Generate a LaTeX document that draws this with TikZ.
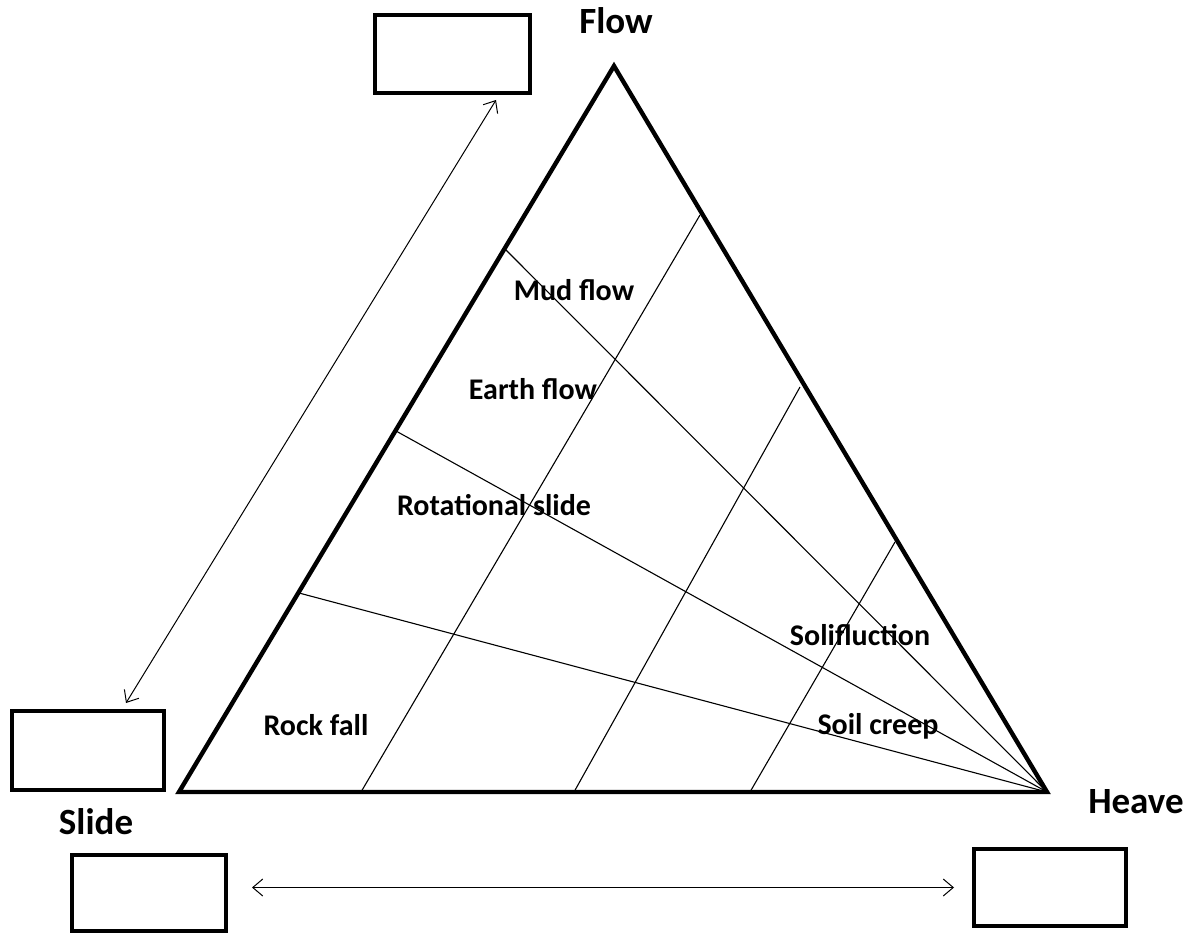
\documentclass[tikz,border=0pt]{standalone}
\usepackage{fontspec}
\setmainfont{Carlito}
\usetikzlibrary{arrows.meta,calc}
\begin{document}
\begin{tikzpicture}[x=1pt,y=-1pt,
  box/.style={draw,line width=4pt,rectangle,inner sep=0pt},
  title/.style={font=\fontsize{37}{40}\selectfont\bfseries,inner sep=0pt,anchor=base},
  lab/.style={font=\fontsize{30}{32}\selectfont\bfseries,inner sep=0pt,anchor=base},
  edge/.style={line width=4.4pt,line join=miter},
  thin/.style={line width=1.1pt},
  dbl/.style={line width=1pt,{Straight Barb[length=10pt,width=17pt]}-{Straight Barb[length=10pt,width=17pt]}}]
\useasboundingbox (0,0) rectangle (1193,936);
\fill[white] (0,0) rectangle (1193,936);
% triangle corners
\coordinate (A) at (614,66);
\coordinate (B) at (179,792);
\coordinate (C) at (1047,792);
% fan line ends on left side
\coordinate (f1) at (504,248);
\coordinate (f2) at (396,431);
\coordinate (f3) at (299,593);
% parallel lines
\coordinate (p1b) at (361,792);
\coordinate (p1t) at (700,215);
\coordinate (p2b) at (574,792);
\coordinate (p2t) at (800,387);
\coordinate (p3b) at (750,792);
\coordinate (p3t) at (895,542);
\draw[thin] (C) -- (f1);
\draw[thin] (C) -- (f2);
\draw[thin] (C) -- (f3);
\draw[thin] (p1b) -- (p1t);
\draw[thin] (p2b) -- (p2t);
\draw[thin] (p3b) -- (p3t);
\draw[edge] (A) -- (B) -- (C) -- cycle;
% boxes
\node[box,minimum width=155pt,minimum height=78pt] (tbox) at (452.5,54) {};
\node[box,minimum width=152pt,minimum height=79pt] (lbox) at (88,750.5) {};
\node[box,minimum width=154pt,minimum height=76pt] (blbox) at (149,893) {};
\node[box,minimum width=152pt,minimum height=77pt] (brbox) at (1050,887.5) {};
% arrows
\draw[dbl] ([xshift=-40pt,yshift=6pt]lbox.north east) -- ([xshift=-36pt,yshift=-5pt]tbox.south east);
\draw[dbl] ([xshift=24pt]blbox.east |- brbox.west) -- ([xshift=-18pt]brbox.west);
% titles
\node[title] (flow) at (616,34) {Flow};
\node[title] (slide) at (96,834) {Slide};
\node[title] (heave) at (1136,813) {Heave};
% labels
\node[lab] (mud) at (574,300) {Mud flow};
\node[lab] (earth) at (533,399) {Earth flow};
\node[lab] (rot) at (494,515) {Rotational slide};
\node[lab] (rock) at (316,735) {Rock fall};
\node[lab] (soli) at (860,645) {Solifluction};
\node[lab] (creep) at (878,734) {Soil creep};
\end{tikzpicture}
\end{document}
